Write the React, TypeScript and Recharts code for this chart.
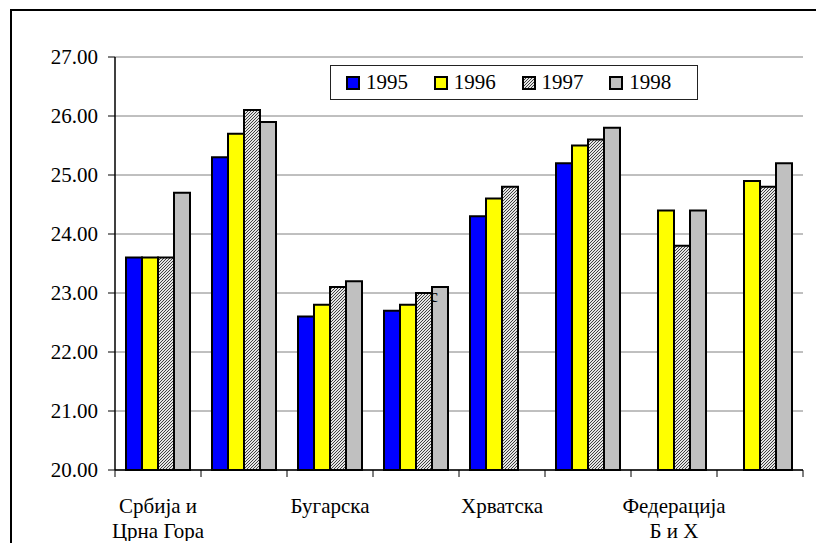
import { BarChart, Bar, XAxis, YAxis, CartesianGrid, Legend, LabelList } from 'recharts';

const categories = ['Србија и\nЦрна Гора', '', 'Бугарска', '', 'Хрватска', '', 'Федерација\nБ и Х', ''];
const s1995 = [23.6, 25.3, 22.6, 22.7, 24.3, 25.2, null, null];
const s1996 = [23.6, 25.7, 22.8, 22.8, 24.6, 25.5, 24.4, 24.9];
const s1997 = [23.6, 26.1, 23.1, 23.0, 24.8, 25.6, 23.8, 24.8];
const s1998 = [24.7, 25.9, 23.2, 23.1, null, 25.8, 24.4, 25.2];
const yTicks = [20, 21, 22, 23, 24, 25, 26, 27];

const series = [
  { key: 'y1995', name: '1995', fill: '#0000ff' },
  { key: 'y1996', name: '1996', fill: '#ffff00' },
  { key: 'y1997', name: '1997', fill: 'url(#hatch)' },
  { key: 'y1998', name: '1998', fill: '#c0c0c0' },
];

const data = categories.map((name, i) => ({
  name,
  y1995: s1995[i],
  y1996: s1996[i],
  y1997: s1997[i],
  y1998: s1998[i],
}));

const FONT = '"Liberation Serif", "Times New Roman", serif';

// category label plus the small tick marks at the band edges
const CategoryTick = (props: any) => {
  const { x, y, payload, index, visibleTicksCount } = props;
  const half = payload && payload.offset ? payload.offset : 43;
  const lines = String(payload.value).split('\n').filter(l => l.trim() !== '');
  const isLast = index === visibleTicksCount - 1;
  return (
    <g>
      <line x1={x - half} x2={x - half} y1={y} y2={y + 7} stroke="#000" strokeWidth={1} />
      {isLast && <line x1={x + half} x2={x + half} y1={y} y2={y + 7} stroke="#000" strokeWidth={1} />}
      {lines.map((line, i) => (
        <text key={i} x={x} y={y + 43 + i * 25} textAnchor="middle" fontSize={21} fontFamily={FONT} fill="#000">
          {line}
        </text>
      ))}
    </g>
  );
};

const LegendBox = () => (
  <div
    style={{
      width: 368,
      height: 35,
      boxSizing: 'border-box',
      border: '1.5px solid #222',
      background: '#fff',
      display: 'flex',
      alignItems: 'center',
      paddingLeft: 15,
      fontFamily: FONT,
      fontSize: 21,
      lineHeight: 1,
    }}
  >
    {series.map(s => (
      <div key={s.key} style={{ width: 92, display: 'flex', alignItems: 'center' }}>
        <svg width={14} height={14} style={{ marginRight: 6 }}>
          <defs>
            <pattern id={`hatchL${s.key}`} width={3} height={3} patternUnits="userSpaceOnUse">
              <rect width={3} height={3} fill="#e4e4e4" />
              <path d="M0,3 L3,0" stroke="#404040" strokeWidth={1} />
            </pattern>
          </defs>
          <rect x={1} y={1} width={12} height={12} fill={s.fill.startsWith('url') ? `url(#hatchL${s.key})` : s.fill} stroke="#000" strokeWidth={2} />
        </svg>
        <span>{s.name}</span>
      </div>
    ))}
  </div>
);

const StrayMark = (props: any) => {
  const { x, y, index } = props;
  if (index !== 3) return null;
  return (
    <text x={x - 2} y={y + 15} fontSize={18} fontFamily={FONT} fill="#000">
      c
    </text>
  );
};

export default function App() {
  return (
    <div
      style={{
        position: 'absolute',
        left: 10,
        top: 9,
        width: 820,
        height: 545,
        boxSizing: 'border-box',
        border: '2px solid #000',
        background: '#fff',
      }}
    >
      <BarChart
        width={800}
        height={530}
        data={data}
        margin={{ top: 46, right: 9, bottom: 0, left: 0 }}
        barCategoryGap={11}
        barGap={0}
      >
        <defs>
          <pattern id="hatch" width={3} height={3} patternUnits="userSpaceOnUse">
            <rect width={3} height={3} fill="#e4e4e4" />
            <path d="M0,3 L3,0" stroke="#404040" strokeWidth={1} />
          </pattern>
        </defs>
        <CartesianGrid vertical={false} stroke="#808080" strokeWidth={1} />
        <XAxis
          dataKey="name"
          height={71}
          axisLine={{ stroke: '#000', strokeWidth: 1.5 }}
          tickLine={false}
          tickSize={0}
          tickMargin={0}
          interval={0}
          tick={<CategoryTick />}
        />
        <YAxis
          domain={[20, 27]}
          ticks={yTicks}
          width={103}
          tickSize={7}
          tickMargin={10}
          tickFormatter={(v: number) => v.toFixed(2)}
          tick={{ fontSize: 21, fontFamily: FONT, fill: '#000' }}
          axisLine={{ stroke: '#000', strokeWidth: 1.5 }}
          tickLine={{ stroke: '#000' }}
        />
        <YAxis
          yAxisId="right"
          orientation="right"
          domain={[20, 27]}
          width={0}
          tick={false}
          tickLine={false}
          axisLine={{ stroke: '#808080', strokeWidth: 2 }}
        />
        <Legend
          layout="horizontal"
          verticalAlign="middle"
          align="center"
          wrapperStyle={{ position: 'absolute', left: 318, top: 54, width: 368, height: 35 }}
          content={<LegendBox />}
        />
        {series.map(s => (
          <Bar
            key={s.key}
            dataKey={s.key}
            name={s.name}
            fill={s.fill}
            stroke="#000"
            strokeWidth={2}
            isAnimationActive={false}
          >
            {s.key === 'y1998' && <LabelList dataKey={s.key} content={<StrayMark />} />}
          </Bar>
        ))}
      </BarChart>
    </div>
  );
}
